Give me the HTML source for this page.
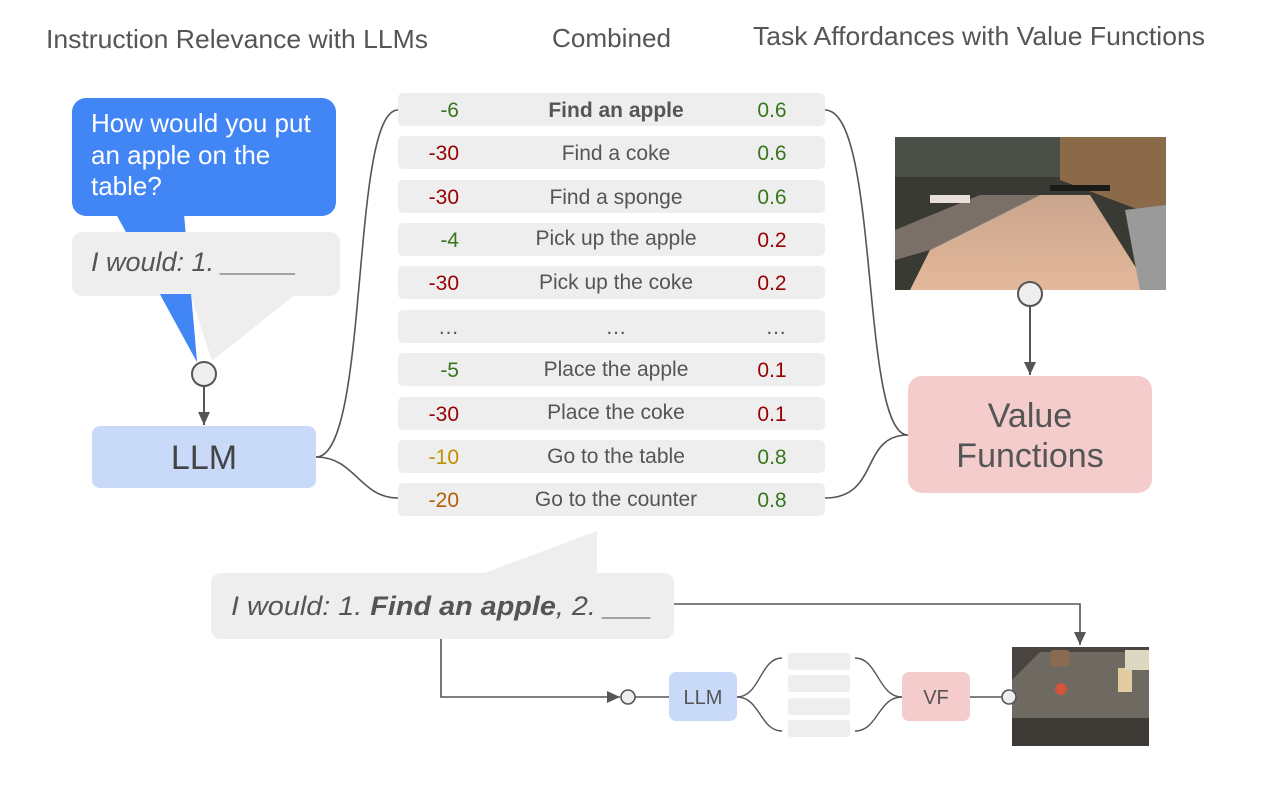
<!DOCTYPE html>
<html><head><meta charset="utf-8"><style>
html,body{margin:0;padding:0;background:#fff;}
svg{display:block;font-family:"Liberation Sans",Arial,sans-serif;}
</style></head><body>
<svg width="1280" height="790" viewBox="0 0 1280 790" xmlns="http://www.w3.org/2000/svg">
<defs>
<marker id="ar" markerWidth="14" markerHeight="14" refX="13" refY="6" orient="auto" markerUnits="userSpaceOnUse"><path d="M0,0 L13,6 L0,12 z" fill="#555"/></marker>
<linearGradient id="floor" x1="0" y1="0" x2="0" y2="1"><stop offset="0" stop-color="#c9a58d"/><stop offset="1" stop-color="#e4b89a"/></linearGradient>
</defs>
<g fill="#555" font-size="26">
<text x="46" y="48" textLength="382" lengthAdjust="spacingAndGlyphs">Instruction Relevance with LLMs</text>
<text x="552" y="47" textLength="119" lengthAdjust="spacingAndGlyphs">Combined</text>
<text x="753" y="45" textLength="452" lengthAdjust="spacingAndGlyphs">Task Affordances with Value Functions</text>
</g>
<!-- bubbles -->
<polygon points="116,214 184,214 197,362" fill="#4285f4"/>
<rect x="72" y="98" width="264" height="118" rx="14" fill="#4285f4"/>
<g fill="#fff" font-size="26">
<text x="91" y="132">How would you put</text>
<text x="91" y="164">an apple on the</text>
<text x="91" y="195">table?</text>
</g>
<rect x="72" y="232" width="268" height="64" rx="10" fill="#eeeeee"/>
<polygon points="190,294 296,294 212,361" fill="#eeeeee"/>
<polygon points="160,294 191,294 197,362" fill="#4285f4"/>
<text x="91" y="271" font-size="27" font-style="italic" fill="#555">I would: 1. _____</text>
<circle cx="204" cy="374" r="12" fill="#eee" stroke="#555" stroke-width="2"/>
<line x1="204" y1="386" x2="204" y2="425" stroke="#555" stroke-width="2" marker-end="url(#ar)"/>
<rect x="92" y="426" width="224" height="62" rx="8" fill="#c9daf8"/>
<text x="204" y="469" text-anchor="middle" font-size="34" fill="#444">LLM</text>
<!-- curves -->
<g fill="none" stroke="#555" stroke-width="1.6">
<path d="M316,457 C370,457 350,110 398,110"/>
<path d="M316,457 C355,457 360,498 398,498"/>
<path d="M825,110 C880,110 860,435 908,435"/>
<path d="M825,498 C880,498 860,435 908,435"/>
</g>
<!-- rows -->
<g fill="#eeeeee">
<rect x="398" y="93" width="427" height="33" rx="5"/>
<rect x="398" y="136" width="427" height="33" rx="5"/>
<rect x="398" y="180" width="427" height="33" rx="5"/>
<rect x="398" y="223" width="427" height="33" rx="5"/>
<rect x="398" y="266" width="427" height="33" rx="5"/>
<rect x="398" y="310" width="427" height="33" rx="5"/>
<rect x="398" y="353" width="427" height="33" rx="5"/>
<rect x="398" y="397" width="427" height="33" rx="5"/>
<rect x="398" y="440" width="427" height="33" rx="5"/>
<rect x="398" y="483" width="427" height="33" rx="5"/>
</g>
<g font-size="21">
<g text-anchor="end">
<text x="459" y="117" fill="#38761d">-6</text>
<text x="459" y="160" fill="#990000">-30</text>
<text x="459" y="204" fill="#990000">-30</text>
<text x="459" y="247" fill="#38761d">-4</text>
<text x="459" y="290" fill="#990000">-30</text>
<text x="459" y="334" fill="#555">…</text>
<text x="459" y="377" fill="#38761d">-5</text>
<text x="459" y="421" fill="#990000">-30</text>
<text x="459" y="464" fill="#bf9000">-10</text>
<text x="459" y="507" fill="#b45f06">-20</text>
</g>
<g text-anchor="middle" fill="#555">
<text x="616" y="117" font-weight="bold">Find an apple</text>
<text x="616" y="160">Find a coke</text>
<text x="616" y="204">Find a sponge</text>
<text x="616" y="245">Pick up the apple</text>
<text x="616" y="289">Pick up the coke</text>
<text x="616" y="334">…</text>
<text x="616" y="376">Place the apple</text>
<text x="616" y="419">Place the coke</text>
<text x="616" y="463">Go to the table</text>
<text x="616" y="506">Go to the counter</text>
</g>
<g text-anchor="middle">
<text x="772" y="117" fill="#38761d">0.6</text>
<text x="772" y="160" fill="#38761d">0.6</text>
<text x="772" y="204" fill="#38761d">0.6</text>
<text x="772" y="247" fill="#990000">0.2</text>
<text x="772" y="290" fill="#990000">0.2</text>
<text x="776" y="334" fill="#555">…</text>
<text x="772" y="377" fill="#990000">0.1</text>
<text x="772" y="421" fill="#990000">0.1</text>
<text x="772" y="464" fill="#38761d">0.8</text>
<text x="772" y="507" fill="#38761d">0.8</text>
</g>
</g>
<!-- image 1 -->
<g>
<rect x="895" y="137" width="271" height="153" fill="#3a3a34"/>
<rect x="895" y="137" width="271" height="40" fill="#4a5048"/>
<polygon points="1060,137 1166,137 1166,220 1060,180" fill="#8a6a48"/>
<polygon points="1040,195 1090,195 1150,290 910,290 930,250" fill="url(#floor)"/>
<polygon points="980,195 1040,195 930,250 895,260 895,230" fill="#7a7068"/>
<polygon points="1125,210 1166,205 1166,290 1140,290" fill="#9a9a9a"/>
<rect x="930" y="195" width="40" height="8" fill="#e8e0d8"/>
<rect x="1050" y="185" width="60" height="6" fill="#1a1a18"/>
</g>
<circle cx="1030" cy="294" r="12" fill="#eee" stroke="#555" stroke-width="2"/>
<line x1="1030" y1="306" x2="1030" y2="375" stroke="#555" stroke-width="2" marker-end="url(#ar)"/>
<rect x="908" y="376" width="244" height="117" rx="14" fill="#f4cccc"/>
<g font-size="34" fill="#555" text-anchor="middle">
<text x="1030" y="427">Value</text>
<text x="1030" y="467">Functions</text>
</g>
<!-- bottom bubble -->
<polygon points="482,574 597,531 597,574" fill="#eeeeee"/>
<rect x="211" y="573" width="463" height="66" rx="10" fill="#eeeeee"/>
<text x="231" y="615" font-size="27" font-style="italic" fill="#555" textLength="421" lengthAdjust="spacingAndGlyphs">I would: 1. <tspan font-weight="bold">Find an apple</tspan>, 2. ___</text>
<polyline points="674,604 1080,604 1080,645" fill="none" stroke="#555" stroke-width="1.6" marker-end="url(#ar)"/>
<polyline points="441,639 441,697 620,697" fill="none" stroke="#555" stroke-width="1.6" marker-end="url(#ar)"/>
<circle cx="628" cy="697" r="7" fill="#eee" stroke="#555" stroke-width="1.6"/>
<line x1="635" y1="697" x2="669" y2="697" stroke="#555" stroke-width="1.6"/>
<rect x="669" y="672" width="68" height="49" rx="7" fill="#c9daf8"/>
<text x="703" y="704" text-anchor="middle" font-size="20" fill="#555">LLM</text>
<g fill="none" stroke="#555" stroke-width="1.4">
<path d="M737,697 C760,697 760,658 782,658"/>
<path d="M737,697 C760,697 760,731 782,731"/>
<path d="M855,658 C878,658 878,697 902,697"/>
<path d="M855,731 C878,731 878,697 902,697"/>
</g>
<g fill="#eeeeee">
<rect x="788" y="653" width="62" height="17" rx="3"/>
<rect x="788" y="675" width="62" height="17" rx="3"/>
<rect x="788" y="698" width="62" height="17" rx="3"/>
<rect x="788" y="720" width="62" height="17" rx="3"/>
</g>
<rect x="902" y="672" width="68" height="49" rx="7" fill="#f4cccc"/>
<text x="936" y="704" text-anchor="middle" font-size="20" fill="#555">VF</text>
<line x1="970" y1="697" x2="1002" y2="697" stroke="#555" stroke-width="1.6"/>
<!-- image 2 -->
<g>
<rect x="1012" y="647" width="137" height="99" fill="#4a4540"/>
<polygon points="1012,680 1040,652 1149,652 1149,720 1050,725 1012,718" fill="#6e6a62"/>
<rect x="1012" y="718" width="137" height="28" fill="#3e3a36"/>
<circle cx="1061" cy="689" r="6" fill="#d0553a"/>
<rect x="1050" y="650" width="20" height="16" rx="4" fill="#8a6a50"/>
<rect x="1118" y="668" width="14" height="24" fill="#e0cca0"/>
<rect x="1125" y="650" width="24" height="20" fill="#ddd8c0"/>
</g>
<circle cx="1009" cy="697" r="7" fill="#eee" stroke="#555" stroke-width="1.6"/>
</svg>
</body></html>
